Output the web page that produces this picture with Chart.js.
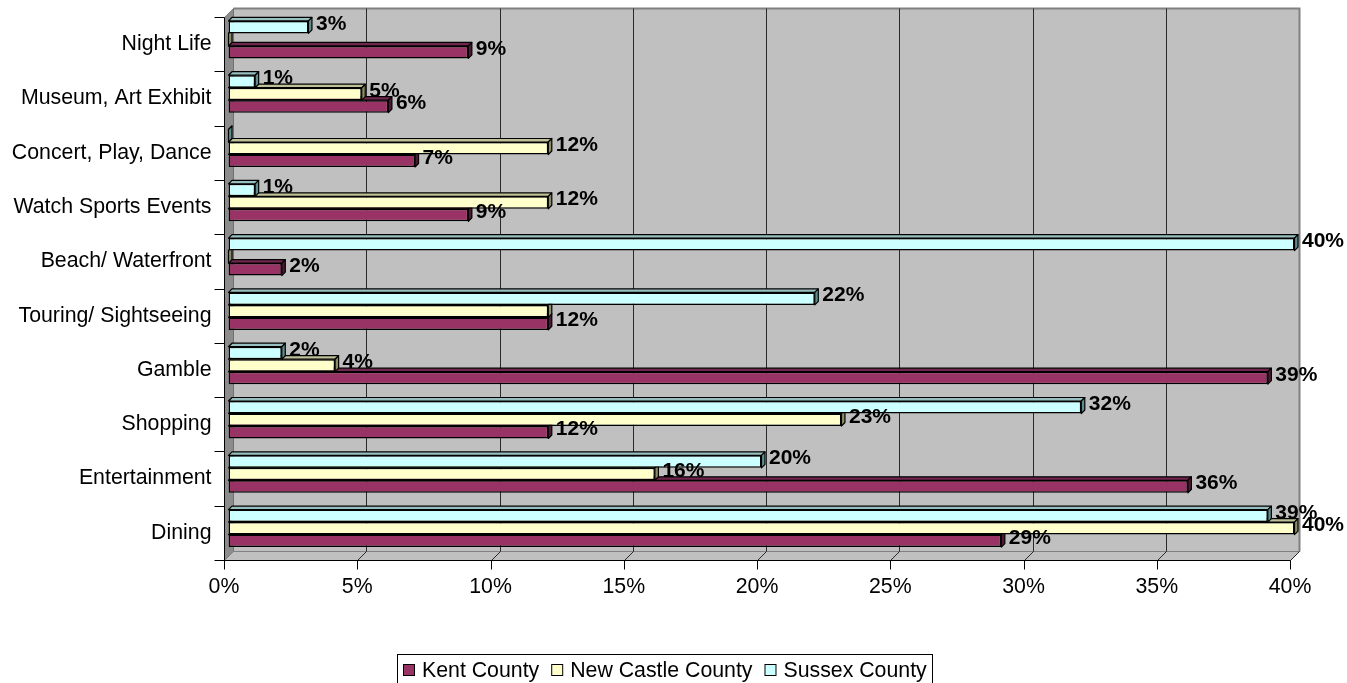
<!DOCTYPE html>
<html>
<head>
<meta charset="utf-8">
<title>Activities by County</title>
<script src="https://cdn.jsdelivr.net/npm/chart.js@4.4.1/dist/chart.umd.min.js"></script>
<style>
  html, body { margin: 0; padding: 0; background: #ffffff; }
  canvas { display: block; }
</style>
</head>
<body>
<canvas id="chart" width="1347" height="683"></canvas>
<script>
// Activity categories, listed top to bottom
const categories = [
  'Night Life',
  'Museum, Art Exhibit',
  'Concert, Play, Dance',
  'Watch Sports Events',
  'Beach/ Waterfront',
  'Touring/ Sightseeing',
  'Gamble',
  'Shopping',
  'Entertainment',
  'Dining'
];

// Share of visitors (%) per county
const kentCounty      = [9, 6, 7, 9, 2, 12, 39, 12, 36, 29];
const newCastleCounty = [0, 5, 12, 12, 0, 12, 4, 23, 16, 40];
const sussexCounty    = [3, 1, 0, 1, 40, 22, 2, 32, 20, 39];

// Value axis ticks (%)
const xTicks = [0, 5, 10, 15, 20, 25, 30, 35, 40];

const FONT = "'Liberation Sans', Arial, Helvetica, sans-serif";
const WALL = 9;          // depth of the plot box
const HALF = WALL / 2;
const BAR_DEPTH = 3.5;   // extrusion of each bar

const crisp = v => Math.round(v) + 0.5;

function polygon(ctx, pts, fill, stroke, lw) {
  ctx.beginPath();
  ctx.moveTo(pts[0][0], pts[0][1]);
  for (let i = 1; i < pts.length; i++) ctx.lineTo(pts[i][0], pts[i][1]);
  ctx.closePath();
  if (fill) { ctx.fillStyle = fill; ctx.fill(); }
  if (stroke) { ctx.strokeStyle = stroke; ctx.lineWidth = lw || 1; ctx.stroke(); }
}

function line(ctx, x1, y1, x2, y2, color, lw) {
  ctx.beginPath();
  ctx.moveTo(x1, y1);
  ctx.lineTo(x2, y2);
  ctx.strokeStyle = color;
  ctx.lineWidth = lw || 1;
  ctx.stroke();
}

// Back wall, side wall, floor, gridlines and axis lines of the 3-D box
const plotBox = {
  id: 'plotBox',
  beforeDatasetsDraw(chart) {
    const { ctx, chartArea: a, scales: { x } } = chart;
    const x0 = x.getPixelForValue(xTicks[0]);
    const x1 = x.getPixelForValue(xTicks[xTicks.length - 1]);
    const top = a.top, bot = a.bottom;
    ctx.save();

    // back wall
    const bl = crisp(x0 + HALF), br = crisp(x1 + HALF);
    const bt = crisp(top - HALF), bb = crisp(bot - HALF);
    ctx.fillStyle = '#c0c0c0';
    ctx.fillRect(bl, bt, br - bl, bb - bt);

    // left wall
    const fl = crisp(x0 - HALF), fb = crisp(bot + HALF), ft = crisp(top + HALF);
    polygon(ctx, [[fl, ft], [bl, bt], [bl, bb], [fl, fb]], '#8c8c8c', '#707070');

    // floor
    const fr = crisp(x1 - HALF);
    polygon(ctx, [[fl, fb], [bl, bb], [br, bb], [fr, fb]], '#c0c0c0', '#808080');

    // back wall frame
    ctx.strokeStyle = '#808080';
    ctx.lineWidth = 2;
    ctx.beginPath();
    ctx.moveTo(bl, bt); ctx.lineTo(br, bt); ctx.lineTo(br, bb);
    ctx.stroke();
    line(ctx, fl, ft, bl, bt, '#808080', 1);

    // vertical gridlines on the back wall, continued across the floor
    xTicks.forEach(v => {
      if (v === xTicks[0]) return;
      const p = x.getPixelForValue(v);
      const gb = crisp(p + HALF), gf = crisp(p - HALF);
      if (v !== xTicks[xTicks.length - 1]) {
        line(ctx, gb, bt, gb, bb, '#2a2a2a', 1);
      }
      line(ctx, gb, bb, gf, fb, '#2a2a2a', 1);
      // tick mark below the front edge
      line(ctx, gf, fb, gf, fb + 9, '#000', 1);
    });

    // front axis lines
    line(ctx, fl, ft, fl, fb + 9, '#000', 1);
    line(ctx, fl, fb, fr, fb, '#000', 1);

    // category boundary ticks on the value axis side
    const n = categories.length;
    const step = (bot - top) / n;
    for (let i = 0; i <= n; i++) {
      const yy = crisp(top + HALF + i * step);
      line(ctx, fl - 10, yy, fl, yy, '#000', 1);
    }
    ctx.restore();
  },

  // side and top faces of each bar, drawn right after that series
  afterDatasetDraw(chart, args) {
    const { ctx } = chart;
    const ds = chart.data.datasets[args.index];
    ctx.save();
    ctx.lineJoin = 'round';
    args.meta.data.forEach(bar => {
      const { x, y, base, height } = bar.getProps(['x', 'y', 'base', 'height'], true);
      const t = y - height / 2, b = y + height / 2;
      const d = BAR_DEPTH;
      polygon(ctx, [[base, t], [base + d, t - d], [x + d, t - d], [x, t]], ds.topColor, '#000', 1.2);
      polygon(ctx, [[x, t], [x + d, t - d], [x + d, b - d], [x, b]], ds.sideColor, '#000', 1.2);
    });
    ctx.restore();
  },

  // value labels at the end of each bar
  afterDatasetsDraw(chart) {
    const { ctx } = chart;
    ctx.save();
    ctx.font = 'bold 21px ' + FONT;
    ctx.fillStyle = '#000';
    ctx.textAlign = 'left';
    ctx.textBaseline = 'middle';
    const sets = chart.data.datasets;
    sets.forEach((ds, di) => {
      const meta = chart.getDatasetMeta(di);
      meta.data.forEach((bar, i) => {
        const v = ds.data[i];
        if (!v) return;
        // one label only where two neighbouring bars end at the same value
        const next = sets[di + 1];
        if (next && next.data[i] === v) return;
        ctx.fillText(v + '%', bar.x + BAR_DEPTH + 4, bar.y - 3);
      });
    });
    ctx.restore();
  },

  // boxed legend, in county order
  afterDraw(chart) {
    const { ctx } = chart;
    const order = chart.data.datasets.slice().reverse();
    ctx.save();
    ctx.font = '21.3px ' + FONT;
    const boxL = 397.5, boxT = 654.5, boxR = 932.5;
    ctx.strokeStyle = '#000';
    ctx.lineWidth = 1;
    ctx.strokeRect(boxL, boxT, boxR - boxL, 40);
    let cx = 403;
    const cy = 670;
    order.forEach(ds => {
      ctx.fillStyle = ds.backgroundColor;
      ctx.fillRect(cx + 0.5, cy - 5.5, 11, 11);
      ctx.strokeStyle = '#000';
      ctx.strokeRect(cx + 0.5, cy - 5.5, 11, 11);
      ctx.fillStyle = '#000';
      ctx.textAlign = 'left';
      ctx.textBaseline = 'middle';
      const tx = cx + 19;
      ctx.fillText(ds.label, tx, cy + 1);
      cx = tx + ctx.measureText(ds.label).width + 12;
    });
    ctx.restore();
  }
};

new Chart(document.getElementById('chart'), {
  type: 'bar',
  data: {
    labels: categories,
    // listed top-to-bottom inside each group
    datasets: [
      {
        label: 'Sussex County', data: sussexCounty,
        backgroundColor: '#ccffff', topColor: '#99c0c0', sideColor: '#5f8c8c',
        borderColor: '#000', borderWidth: 1.5
      },
      {
        label: 'New Castle County', data: newCastleCounty,
        backgroundColor: '#ffffcc', topColor: '#c0c099', sideColor: '#8c8c66',
        borderColor: '#000', borderWidth: 1.5
      },
      {
        label: 'Kent County', data: kentCounty,
        backgroundColor: '#993366', topColor: '#73264d', sideColor: '#4d1a33',
        borderColor: '#000', borderWidth: 1.5
      }
    ]
  },
  options: {
    indexAxis: 'y',
    responsive: false,
    animation: false,
    devicePixelRatio: 1,
    layout: { padding: { top: 12.5, right: 52.5, bottom: 0, left: 0 } },
    datasets: { bar: { categoryPercentage: 0.69, barPercentage: 1, borderSkipped: false } },
    plugins: {
      legend: { display: false },
      tooltip: { enabled: false }
    },
    scales: {
      x: {
        type: 'linear',
        min: xTicks[0],
        max: xTicks[xTicks.length - 1],
        afterFit(scale) {
          scale.height = 127.5;
          scale.paddingLeft = 0;
          scale.paddingRight = 0;
        },
        afterBuildTicks(scale) { scale.ticks = xTicks.map(v => ({ value: v })); },
        grid: { display: false, drawTicks: false },
        border: { display: false },
        ticks: {
          padding: 19,
          labelOffset: -HALF,
          maxRotation: 0,
          color: '#000',
          font: { family: FONT, size: 21.3 },
          callback: v => v + '%'
        }
      },
      y: {
        type: 'category',
        afterFit(scale) {
          scale.width = 228.5;
          scale.paddingTop = 0;
          scale.paddingBottom = 0;
        },
        grid: { display: false, drawTicks: false },
        border: { display: false },
        ticks: {
          padding: 17,
          labelOffset: HALF,
          color: '#000',
          font: { family: FONT, size: 21.3 }
        }
      }
    }
  },
  plugins: [plotBox]
});
</script>
</body>
</html>
